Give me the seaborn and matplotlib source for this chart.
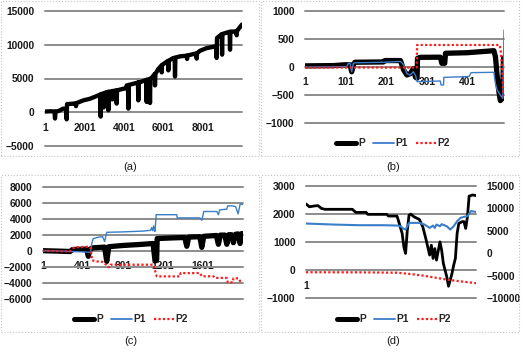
import numpy as np
import pandas as pd
import seaborn as sns
import matplotlib.pyplot as plt
from matplotlib.patches import Rectangle
from matplotlib.lines import Line2D

sns.set_style('white')
plt.rcParams['font.family'] = ['Liberation Sans', 'DejaVu Sans']

# ---- (a) P only
a_x = [1, 300, 480, 509, 540, 700, 931, 1080, 1100, 1120, 1438, 1555, 1575, 1595, 1946, 2285,
       2708, 2806, 2826, 2846, 2962, 2975, 2990, 3131, 3196, 3216, 3236, 3400, 3420, 3440, 3619,
       3639, 3659, 3977, 4100, 4146, 4211, 4231, 4251, 4485, 4718, 4738, 4758, 4823, 5141, 5161,
       5181, 5311, 5331, 5351, 5415, 5565, 5585, 5605, 5754, 5903, 5923, 5943, 6008, 6241, 6261,
       6281, 6515, 6580, 6600, 6620, 6854, 7192, 7212, 7232, 7530, 7680, 7700, 7720, 7869, 8207,
       8546, 8695, 8715, 8730, 8969, 8989, 9009, 9223, 9372, 9392, 9412, 9561, 9710, 9730, 9750,
       9815, 9984, 10000]
a_p = [100, 150, 100, -930, 100, 200, 540, 500, -1050, 1200, 1280, 1300, 900, 1350, 1760, 2000,
       2500, 2600, -650, 2700, 2750, 700, 2800, 2990, 3000, 290, 3050, 3100, 1900, 3150, 3230,
       1280, 3250, 3480, 3550, 3970, 4000, 540, 4050, 4220, 4400, 1760, 4450, 4450, 4800, 1520,
       4820, 4900, 1370, 5000, 5100, 5650, 3970, 5700, 6420, 6900, 5900, 7000, 7150, 7600, 6200,
       7640, 8040, 8050, 5290, 8100, 8280, 8380, 7900, 8400, 8620, 8700, 7940, 8750, 9110, 9500,
       9700, 9750, 8040, 11000, 11570, 8530, 11600, 11800, 11900, 9260, 11950, 11950, 12000, 11400, 12100,
       12300, 12940, 13000]

# ---- (b)
b_p_x = [1, 71, 100, 112, 116, 120, 124, 194, 198, 236, 244, 252, 260, 268, 273, 277, 278, 285,
         334, 338, 345, 347, 400, 466, 470, 474, 478, 482, 487, 490]
b_p = [20, 25, 40, 40, -85, 40, 85, 90, 115, 115, -54, -143, -120, -30, -180, -200, 155, 173,
       175, 66, 66, 245, 255, 291, 180, -150, -420, -600, -560, 160]
b_p1_x = [1, 104, 108, 112, 116, 120, 124, 198, 236, 244, 252, 260, 268, 273, 277, 334, 336, 342,
          343, 405, 410, 466, 470, 474, 482, 488, 491]
b_p1 = [0, 5, 66, 66, -85, 66, 75, 85, 100, 40, -120, -143, -85, -150, -262, -250, -321, -321,
        -185, -170, -101, -95, -300, -410, -500, -560, 660]
b_p2_x = [1, 276, 277, 480, 483, 490]
b_p2 = [-10, -10, 393, 393, 300, -530]

# ---- (c)
c_p_x = [1, 150, 274, 300, 440, 457, 475, 500, 620, 641, 662, 800, 1000, 1104, 1124, 1140, 1145,
         1300, 1421, 1441, 1461, 1571, 1591, 1611, 1737, 1757, 1777, 1821, 1841, 1861, 1887, 1907,
         1927, 1954, 1974, 1990, 2000]
c_p = [0, -50, -100, 150, 200, -700, 200, 350, 450, -1340, 500, 650, 800, 900, -1300, -1100, 1520,
       1600, 1650, 550, 1700, 1750, 420, 1800, 1900, 800, 1950, 1950, 800, 2000, 2000, 1000,
       2050, 2100, 900, 2150, 2100]
c_p1_x = [1, 200, 400, 480, 491, 505, 560, 600, 620, 641, 800, 1000, 1080, 1090, 1100, 1110, 1120,
          1124, 1135, 1341, 1345, 1571, 1591, 1611, 1741, 1757, 1770, 1841, 1850, 1900, 1930, 1954,
          1974, 2000]
c_p1 = [0, -50, -150, -200, 900, 1500, 1700, 1750, 1150, 2300, 2350, 2450, 2550, 2900, 2500, 3100,
        2450, 2400, 4500, 4500, 4100, 4100, 3800, 4900, 4900, 4500, 5100, 5200, 5600, 5600, 5500,
        4600, 5800, 5800]
c_p2_x = [1, 150, 270, 300, 350, 460, 480, 495, 540, 600, 630, 650, 674, 680, 1107, 1141, 1374,
          1380, 1574, 1591, 1707, 1724, 1841, 1850, 1900, 1907, 1957, 1974, 2000]
c_p2 = [0, -50, -100, 300, 450, 500, 300, -1200, -1340, -1400, -1700, -2040, -2040, -1750, -1750,
        -3210, -3210, -2800, -2800, -3200, -3200, -3400, -3400, -3960, -3960, -3450, -3450, -3800,
        -3800]

# ---- (d)  P on left axis, P1 / P2 on right axis
d_p_x = [1, 3, 6, 8, 10, 12, 28, 30, 36, 37, 48, 49, 54, 55, 57, 58, 59, 60, 61, 62, 64, 67, 69,
         71, 73, 74, 75, 76, 77, 79, 80, 81, 83, 84, 86, 87, 88, 89, 90, 92, 93, 94, 95, 96, 98, 100]
d_p = [2360, 2260, 2290, 2300, 2200, 2170, 2170, 2060, 2060, 1990, 1990, 1930, 1930, 1730, 1310,
       830, 600, 1430, 1960, 2000, 1900, 1810, 1550, 1070, 540, 890, 420, 770, 360, 1010, 710,
       240, -240, -570, -120, 180, 420, 1310, 1670, 1730, 1730, 1490, 1900, 2640, 2680, 2660]
d_p1_x = [1, 17, 32, 46, 54, 56, 58, 59, 61, 67, 70, 73, 75, 76, 77, 79, 80, 83, 85, 87, 89, 91,
          93, 95, 97, 100]
d_p1 = [6640, 6420, 6270, 6270, 6200, 6040, 5450, 5300, 6790, 6790, 6420, 5670, 6190, 5670, 6420,
        6040, 6500, 6040, 5300, 6040, 7160, 7910, 8130, 8280, 9400, 9250]
d_p2_x = [1, 30, 54, 62, 70, 84, 100]
d_p2 = [-4200, -4220, -4300, -4600, -5000, -5900, -6640]

labels = ['P', 'P1', 'P2']
BLUE = '#3a7dc9'
RED = '#ff1a1a'
GRID = '#8c8c8c'
FS = 7.4

W, H = 528, 353
fig = plt.figure(figsize=(W / 100, H / 100), dpi=100)


def box(x0, y0, x1, y1):
    return [x0 / W, 1 - y1 / H, (x1 - x0) / W, (y1 - y0) / H]


def draw(ax, xs, ys, color, lw, ls='-'):
    df = pd.DataFrame({'x': xs, 'y': ys})
    sns.lineplot(data=df, x='x', y='y', ax=ax, color=color, linewidth=lw, linestyle=ls,
                 estimator=None, sort=False, legend=False, solid_capstyle='round')


def style(ax, xlim, xticks, ylim, yticks, grid=True):
    ax.set_xlim(xlim)
    ax.set_ylim(ylim)
    ax.set_xticks(xticks)
    ax.set_yticks(yticks)
    ax.set_xlabel('')
    ax.set_ylabel('')
    ax.grid(False)
    if grid:
        ax.grid(axis='y', color=GRID, lw=1.4)
        for g in ax.get_ygridlines():
            g.set_clip_on(False)
    for s in ax.spines.values():
        s.set_visible(False)
    ax.spines['bottom'].set_position(('data', 0))
    ax.tick_params(length=0, pad=7.5, labelsize=FS, labelcolor='#1a1a1a')
    for t in ax.get_xticklabels() + ax.get_yticklabels():
        t.set_fontweight('bold')
    ax.set_axisbelow(True)
    ax.patch.set_alpha(0)


def legend(cx, cy):
    hs = [Line2D([], [], color='black', lw=3.6, solid_capstyle='round'),
          Line2D([], [], color=BLUE, lw=1.3),
          Line2D([], [], color=RED, lw=1.6, ls=(0, (1, 1)))]
    fig.legend(hs, labels, loc='center', bbox_to_anchor=(cx / W, 1 - cy / H), ncol=3,
               frameon=False, handlelength=2.0, handletextpad=0.15, columnspacing=0.8,
               prop={'weight': 'bold', 'size': FS})


# (a)
ax_a = fig.add_axes(box(45, 11, 242, 146))
draw(ax_a, a_x, a_p, 'black', 3.1)
style(ax_a, (1, 10000), [1, 2001, 4001, 6001, 8001], (-5000, 15000), range(-5000, 15001, 5000))

# (b)
ax_b = fig.add_axes(box(305, 11, 504, 123))
draw(ax_b, b_p_x, b_p, 'black', 3.8)
draw(ax_b, b_p1_x, b_p1, BLUE, 1.0)
draw(ax_b, b_p2_x, b_p2, RED, 1.6, (0, (1, 1)))
style(ax_b, (1, 491), [1, 101, 201, 301, 401], (-1000, 1000), range(-1000, 1001, 500))
legend(393, 143.3)

# (c)
ax_c = fig.add_axes(box(42.7, 186.7, 242.7, 298.7))
draw(ax_c, c_p_x, c_p, 'black', 3.8)
draw(ax_c, c_p1_x, c_p1, BLUE, 1.0)
draw(ax_c, c_p2_x, c_p2, RED, 1.6, (0, (1, 1)))
style(ax_c, (1, 2000), [1, 401, 801, 1201, 1601], (-6000, 8000), range(-6000, 8001, 2000))
legend(131, 319.3)

# (d)
ax_d = fig.add_axes(box(306, 186, 476, 298.3))
draw(ax_d, d_p_x, d_p, 'black', 2.0)
style(ax_d, (1, 100), [1], (-1000, 3000), range(-1000, 3001, 1000))
ax_d2 = ax_d.twinx()
draw(ax_d2, d_p1_x, d_p1, BLUE, 1.5)
draw(ax_d2, d_p2_x, d_p2, RED, 1.6, (0, (1, 1)))
ax_d2.set_xlim(1, 100)
ax_d2.set_ylim(-10000, 15000)
ax_d2.set_yticks(range(-10000, 15001, 5000))
ax_d2.set_ylabel('')
ax_d2.grid(False)
for s in ax_d2.spines.values():
    s.set_visible(False)
ax_d2.tick_params(length=0, pad=7.5, labelsize=FS, labelcolor='#1a1a1a')
for t in ax_d2.get_yticklabels():
    t.set_fontweight('bold')
legend(394, 319.3)

# panel borders and captions
for x0, y0, x1, y1 in [(1, 0.5, 258.5, 155.7), (261, 0.5, 518.5, 155.7),
                       (1, 175, 258.5, 331.7), (261, 175, 518.5, 331.7)]:
    fig.add_artist(Rectangle((x0 / W, 1 - y1 / H), (x1 - x0) / W, (y1 - y0) / H,
                             transform=fig.transFigure, fill=False, ls=':', lw=0.8,
                             ec='#c4c4c4'))
for txt, x, y in [('(a)', 130, 166.7), ('(b)', 393, 166.7), ('(c)', 131, 341.5), ('(d)', 393, 341.5)]:
    fig.text(x / W, 1 - y / H, txt, ha='center', va='center', fontsize=8, color='#1a1a1a')

fig.savefig('out.png', dpi=100)
